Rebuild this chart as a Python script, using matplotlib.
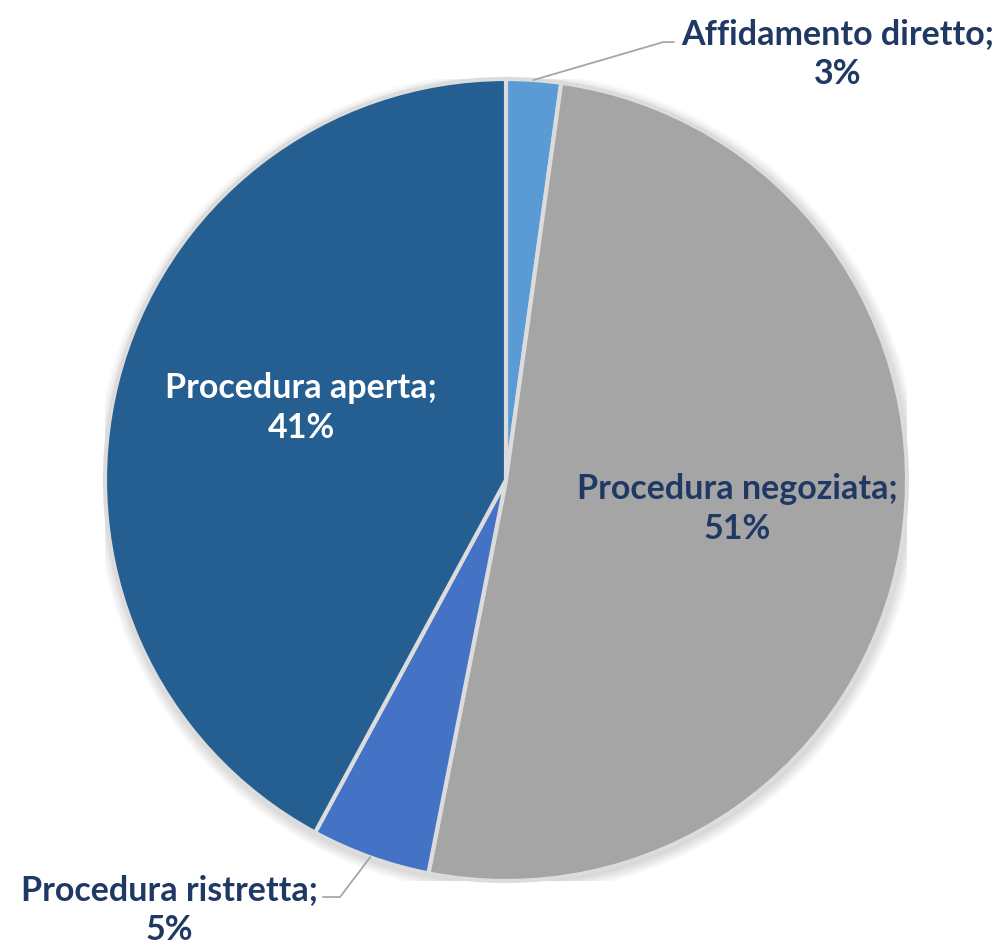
import numpy as np
from matplotlib import pyplot as plt
from matplotlib.patches import Circle

labels = ['Affidamento diretto', 'Procedura negoziata', 'Procedura ristretta', 'Procedura aperta']
values = [2.2, 50.9, 4.8, 42.1]
pct_labels = ['3%', '51%', '5%', '41%']
colors = ['#5B9BD5', '#A5A5A5', '#4472C4', '#255E91']
text_colors = ['#1F3864', '#1F3864', '#1F3864', '#FFFFFF']
# label centres in axes data units (pie radius = 1)
label_pos = [(0.828, 1.062), (0.576, -0.072), (-0.840, -1.072), (-0.511, 0.18)]

plt.rcParams['font.family'] = ['Lato', 'DejaVu Sans']

fig = plt.figure(figsize=(10.03, 9.46), dpi=100)
cx, cy, r = 506, 480, 401
ax = fig.add_axes([(cx - r) / 1003, (946 - cy - r) / 946, 2 * r / 1003, 2 * r / 946])

# soft shadow behind the pie
for k in range(10):
    ax.add_patch(Circle((0.004, -0.008), 1.0 + 0.003 * k, color='black',
                        alpha=0.015, lw=0, zorder=0))

wedges, _ = ax.pie(values, colors=colors, startangle=90, counterclock=False, radius=1,
                   wedgeprops=dict(edgecolor='#DCDCDC', linewidth=3, zorder=2))
ax.set_xlim(-1, 1)
ax.set_ylim(-1, 1)
ax.axis('off')

for i, lab in enumerate(labels):
    x, y = label_pos[i]
    ax.text(x, y, f'{lab};\n{pct_labels[i]}', ha='center', va='center', fontsize=24.5,
            fontweight='bold', color=text_colors[i], linespacing=1.3, zorder=5)

# leader lines for the small outside labels
elbows = {0: [(0.392, 1.092), (0.418, 1.092)], 2: [(-0.414, -1.040), (-0.456, -1.040)]}
for i, pts in elbows.items():
    w = wedges[i]
    ang = np.deg2rad((w.theta1 + w.theta2) / 2)
    xs = [np.cos(ang)] + [p[0] for p in pts]
    ys = [np.sin(ang)] + [p[1] for p in pts]
    ax.plot(xs, ys, color='#A6A6A6', lw=1.3, clip_on=False, zorder=4)

fig.savefig('out.png', dpi=100, facecolor='white')
